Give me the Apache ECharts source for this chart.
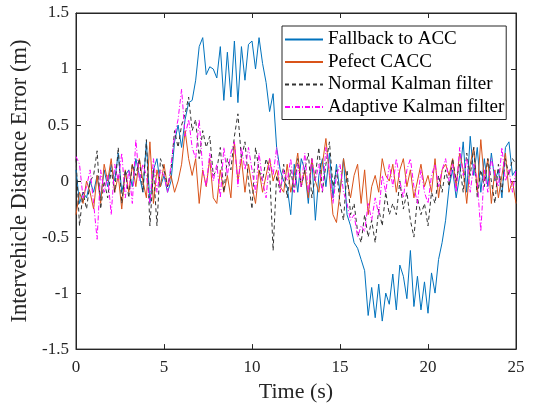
<!DOCTYPE html>
<html>
<head>
<meta charset="utf-8">
<script src="https://cdn.jsdelivr.net/npm/echarts@6/dist/echarts.min.js"></script>
<style>
html,body{margin:0;padding:0;background:#fff;}
#chart{width:533px;height:408px;}
</style>
</head>
<body>
<div id="chart"></div>
<script>
// Sample times (s)
var time = [
 0.0,0.2,0.4,0.6,0.8, 1.0,1.2,1.4,1.6,1.8, 2.0,2.2,2.4,2.6,2.8, 3.0,3.2,3.4,3.6,3.8,
 4.0,4.2,4.4,4.6,4.8, 5.0,5.2,5.4,5.6,5.8, 6.0,6.2,6.4,6.6,6.8, 7.0,7.2,7.4,7.6,7.8,
 8.0,8.2,8.4,8.6,8.8, 9.0,9.2,9.4,9.6,9.8, 10.0,10.2,10.4,10.6,10.8, 11.0,11.2,11.4,11.6,11.8,
 12.0,12.2,12.4,12.6,12.8, 13.0,13.2,13.4,13.6,13.8, 14.0,14.2,14.4,14.6,14.8, 15.0,15.2,15.4,15.6,15.8,
 16.0,16.2,16.4,16.6,16.8, 17.0,17.2,17.4,17.6,17.8, 18.0,18.2,18.4,18.6,18.8, 19.0,19.2,19.4,19.6,19.8,
 20.0,20.2,20.4,20.6,20.8, 21.0,21.2,21.4,21.6,21.8, 22.0,22.2,22.4,22.6,22.8, 23.0,23.2,23.4,23.6,23.8,
 24.0,24.2,24.4,24.6,24.8, 25.0
];
var fallbackACC = [
 0.1,-0.2,-0.1,-0.15,0.0, -0.1,0.05,-0.15,0.1,-0.05, 0.15,0.0,0.25,-0.1,0.05, 0.1,-0.05,0.2,0.05,-0.1,
 0.35,-0.2,0.1,0.2,-0.05, 0.05,-0.1,0.0,0.35,0.5, 0.3,0.55,0.7,0.72,0.9, 1.2,1.28,0.95,1.02,1.0,
 0.92,1.2,0.72,1.15,0.75, 1.25,0.7,1.2,0.9,1.22, 1.25,1.0,1.28,1.05,0.88, 0.62,0.78,0.3,0.1,0.0,
 -0.05,-0.3,0.15,-0.1,0.2, 0.1,-0.2,0.2,-0.35,0.05, 0.2,-0.05,0.25,-0.15,0.15, -0.1,0.2,-0.3,-0.4,-0.55,
 -0.6,-0.7,-0.8,-1.2,-0.95, -1.22,-0.92,-1.25,-1.0,-1.1, -0.83,-1.15,-0.75,-0.85,-1.05, -0.62,-1.12,-0.85,-1.15,-0.9,
 -1.18,-0.82,-1.0,-0.7,-0.55, -0.35,-0.05,0.1,-0.15,0.05, 0.35,-0.1,0.4,0.05,0.3, -0.1,0.2,-0.05,0.25,0.0,
 0.1,-0.15,0.3,0.35,0.05, 0.1
];
var perfectCACC = [
 -0.3,-0.1,-0.2,0.0,-0.1, -0.25,0.05,-0.2,0.15,0.0, 0.2,-0.1,0.05,-0.25,0.1, -0.1,0.15,-0.05,0.2,0.0,
 -0.15,0.35,-0.2,0.1,-0.05, 0.15,-0.05,0.05,-0.1,0.0, 0.15,0.45,0.2,0.05,0.2, -0.2,0.1,-0.05,0.2,-0.15,
 -0.2,0.1,-0.1,0.05,-0.15, 0.35,0.0,0.2,-0.1,0.15, -0.05,-0.2,0.1,-0.1,0.05, 0.2,0.0,0.1,-0.05,-0.1,
 0.15,-0.1,0.05,0.25,-0.05, 0.1,-0.15,0.2,0.0,-0.1, 0.15,0.38,0.05,-0.3,-0.37, -0.1,0.2,0.0,-0.15,0.05,
 0.15,-0.2,0.1,-0.3,-0.05, 0.05,-0.1,0.2,0.05,0.0, 0.15,-0.1,0.1,0.2,-0.05, 0.1,-0.15,0.0,0.15,-0.05,
 0.05,-0.1,0.2,-0.15,0.1, 0.15,0.05,0.2,-0.05,0.25, 0.1,-0.2,0.15,0.3,-0.1, 0.37,0.0,0.2,-0.2,0.1,
 -0.15,0.05,0.25,-0.1,0.0, -0.2
];
var normalKalman = [
 0.2,-0.4,-0.1,-0.25,0.0, 0.05,0.27,-0.25,0.0,-0.15, 0.1,-0.1,0.3,-0.2,0.1, -0.15,0.15,0.05,0.2,-0.1,
 0.37,-0.4,0.1,-0.4,0.2, 0.1,-0.05,0.1,0.45,0.3, 0.5,0.6,0.75,0.45,0.55, 0.2,0.45,0.3,0.4,0.05,
 0.1,0.3,-0.1,0.2,0.1, 0.4,0.6,0.2,0.35,0.0, -0.25,0.3,0.1,0.0,0.2, 0.1,-0.62,0.05,-0.1,0.15,
 -0.15,0.1,-0.1,0.2,-0.05, 0.1,0.25,-0.15,0.05,0.3, -0.1,0.15,0.35,-0.05,0.1, -0.2,-0.35,0.1,-0.3,-0.2,
 -0.45,-0.55,-0.3,-0.5,-0.35, -0.55,-0.25,-0.4,-0.1,-0.3, -0.2,-0.3,0.0,-0.25,-0.1, -0.35,-0.5,-0.15,-0.3,-0.2,
 -0.4,-0.1,-0.2,0.05,-0.1, 0.1,-0.05,0.2,0.0,0.15, -0.1,0.25,0.05,0.3,-0.15, 0.1,-0.05,0.2,0.0,-0.2,
 0.15,-0.1,0.2,0.05,0.2, 0.15
];
var adaptiveKalman = [
 0.22,0.15,-0.15,-0.05,0.1, -0.2,-0.52,0.1,-0.1,0.05, -0.3,0.15,0.0,0.25,-0.15, 0.1,-0.2,0.37,0.0,0.15,
 0.05,-0.2,0.2,-0.1,0.1, 0.05,-0.1,0.15,0.4,0.55, 0.82,0.4,0.55,0.3,0.2, 0.55,0.1,-0.05,0.25,0.0,
 0.15,-0.15,0.3,0.05,0.25, 0.35,-0.05,0.3,0.1,0.3, 0.1,-0.1,0.25,0.0,-0.15, 0.2,0.05,0.3,-0.1,0.1,
 0.0,0.2,-0.1,0.15,-0.05, 0.25,-0.1,0.2,0.0,0.15, -0.1,0.3,0.1,-0.2,0.05, 0.15,-0.1,-0.2,-0.35,-0.3,
 -0.5,-0.4,-0.45,-0.2,-0.35, -0.15,-0.3,0.05,-0.1,0.15, -0.05,0.2,0.0,-0.15,0.1, 0.2,-0.05,-0.2,0.1,-0.1,
 -0.2,0.05,0.15,-0.05,0.1, 0.2,0.0,0.15,-0.1,0.3, 0.05,0.2,-0.1,0.15,0.0, -0.45,0.1,-0.1,0.2,0.05,
 -0.05,0.3,0.0,0.1,-0.1, 0.1
];
var seriesNames = ['Fallback to ACC','Pefect CACC','Normal Kalman filter','Adaptive Kalman filter'];
var xTicks = [0,5,10,15,20,25];
var yTicks = [-1.5,-1,-0.5,0,0.5,1,1.5];

function pairs(vals){ return time.map(function(t,i){ return [t, vals[i]]; }); }

var FONT = 'Liberation Serif';
var axisCol = '#262626';
var chart = echarts.init(document.getElementById('chart'), null, {renderer:'canvas'});

function mkSeries(name, vals, color, type, width){
  return {
    name: name, type: 'line', data: pairs(vals), symbol: 'none', showSymbol: false,
    animation: false, xAxisIndex: 0, yAxisIndex: 0,
    lineStyle: {color: color, width: width, type: type},
    itemStyle: {color: color}
  };
}

function axisCommon(){
  return {
    axisLine: {show: true, onZero: false, lineStyle: {color: axisCol, width: 1}},
    axisTick: {show: true, inside: true, length: 5, lineStyle: {color: axisCol}},
    splitLine: {show: false}
  };
}

chart.setOption({
  backgroundColor: '#ffffff',
  animation: false,
  grid: {left: 76, right: 17, top: 13, bottom: 54, show: true, borderColor: axisCol, borderWidth: 1, backgroundColor: 'transparent'},
  legend: {
    orient: 'vertical', left: 282, top: 26,
    data: seriesNames,
    itemWidth: 38, itemHeight: 12, itemGap: 3.5,
    padding: [4, 2, 3, 2],
    borderColor: axisCol, borderWidth: 1, backgroundColor: '#fff',
    itemStyle: {opacity: 0},
    textStyle: {fontFamily: FONT, fontSize: 19, color: '#000'}
  },
  xAxis: [Object.assign(axisCommon(), {
    type: 'value', min: 0, max: 25, interval: 5, position: 'bottom',
    name: 'Time (s)', nameLocation: 'middle', nameGap: 28,
    nameTextStyle: {fontFamily: FONT, fontSize: 22, color: axisCol},
    axisLabel: {fontFamily: FONT, fontSize: 17, color: axisCol, margin: 10}
  }), Object.assign(axisCommon(), {
    type: 'value', min: 0, max: 25, interval: 5, position: 'top',
    axisLabel: {show: false}
  })],
  yAxis: [Object.assign(axisCommon(), {
    type: 'value', min: -1.5, max: 1.5, interval: 0.5, position: 'left',
    name: 'Intervehicle Distance Error (m)', nameLocation: 'middle', nameGap: 41, nameRotate: 90,
    nameTextStyle: {fontFamily: FONT, fontSize: 22.5, color: axisCol},
    axisLabel: {fontFamily: FONT, fontSize: 17, color: axisCol, margin: 7}
  }), Object.assign(axisCommon(), {
    type: 'value', min: -1.5, max: 1.5, interval: 0.5, position: 'right',
    axisLabel: {show: false}
  })],
  series: [
    mkSeries(seriesNames[0], fallbackACC, '#0072BD', 'solid', 1),
    mkSeries(seriesNames[1], perfectCACC, '#D95319', 'solid', 1),
    mkSeries(seriesNames[2], normalKalman, '#333333', [4,3], 1),
    mkSeries(seriesNames[3], adaptiveKalman, '#FF00FF', [5,2,1,2], 1)
  ]
});
</script>
</body>
</html>
